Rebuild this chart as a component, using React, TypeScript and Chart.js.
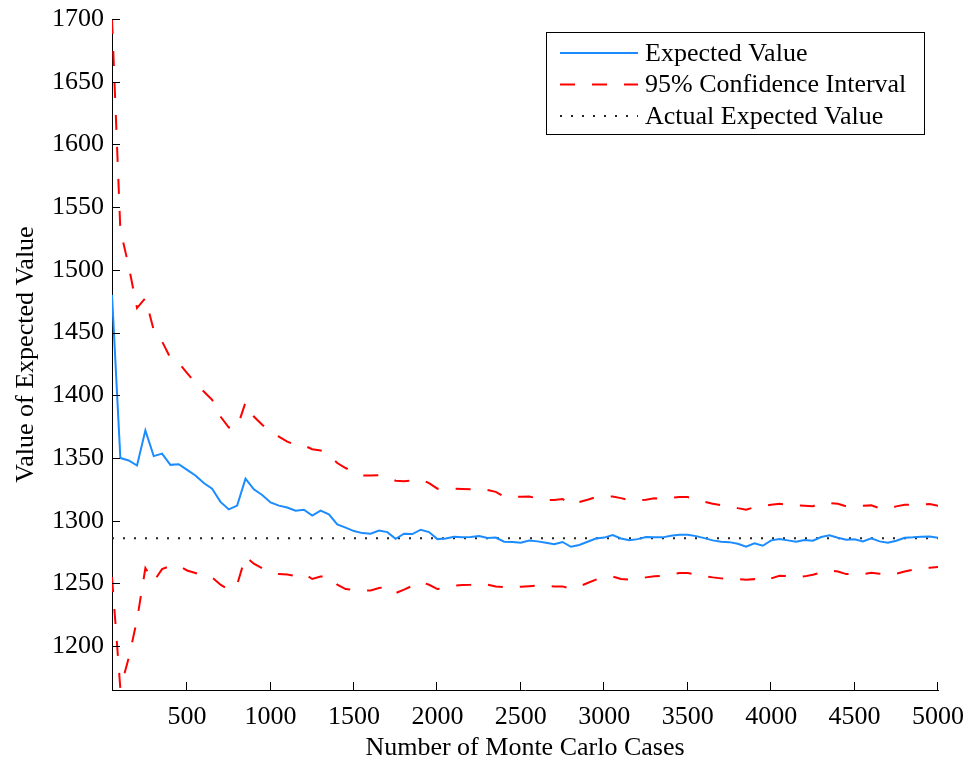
import React, { useEffect, useRef } from 'react';
import { Chart, registerables } from 'chart.js';

Chart.register(...registerables);

// Number of Monte Carlo cases (x values)
const CASES = [
  50, 100, 150, 200, 250, 300, 350, 400, 450, 500,
  550, 600, 650, 700, 750, 800, 850, 900, 950, 1000,
  1050, 1100, 1150, 1200, 1250, 1300, 1350, 1400, 1450, 1500,
  1550, 1600, 1650, 1700, 1750, 1800, 1850, 1900, 1950, 2000,
  2050, 2100, 2150, 2200, 2250, 2300, 2350, 2400, 2450, 2500,
  2550, 2600, 2650, 2700, 2750, 2800, 2850, 2900, 2950, 3000,
  3050, 3100, 3150, 3200, 3250, 3300, 3350, 3400, 3450, 3500,
  3550, 3600, 3650, 3700, 3750, 3800, 3850, 3900, 3950, 4000,
  4050, 4100, 4150, 4200, 4250, 4300, 4350, 4400, 4450, 4500,
  4550, 4600, 4650, 4700, 4750, 4800, 4850, 4900, 4950, 5000,
];

const EXPECTED = [
  1480, 1350, 1348, 1344, 1372, 1351.5, 1353.5, 1344.5, 1345, 1340.5,
  1336, 1330, 1325.5, 1315, 1309, 1312, 1333.5, 1325, 1320.5, 1314.5,
  1312, 1310.5, 1308, 1308.7, 1304, 1308, 1305, 1297, 1294.5, 1291.7,
  1290.1, 1289.6, 1292.2, 1290.9, 1285.6, 1289.6, 1289.3, 1292.8, 1290.9, 1285.3,
  1285.8, 1287.2, 1286.7, 1287, 1287.8, 1286.2, 1286.5, 1283.2, 1283, 1282.4,
  1284.2, 1283.5, 1282.4, 1281.3, 1283, 1279.2, 1280.6, 1283.2, 1285.8, 1286.5,
  1288.5, 1285.8, 1284.5, 1285.3, 1286.9, 1286.7, 1286.7, 1288.0, 1288.8, 1288.8,
  1287.7, 1286.1, 1284.3, 1283.2, 1282.9, 1281.6, 1279.2, 1281.9, 1280.0, 1284.3,
  1285.3, 1284.3, 1283.2, 1284.5, 1284.0, 1287.0, 1288.3, 1286.4, 1284.8, 1285.1,
  1283.5, 1285.9, 1283.5, 1282.4, 1284.0, 1286.4, 1286.7, 1287.2, 1287.4, 1286.4,
];

const UPPER_CI = [
  1700, 1532, 1503, 1469.5, 1477.5, 1452, 1443, 1429.7, 1425.7, 1417.7,
  1409.7, 1403, 1396.4, 1383, 1374.3, 1374.3, 1394.3, 1383, 1376.5, 1371,
  1367, 1363, 1360.5, 1360, 1357, 1356, 1352.6, 1346, 1342, 1338.5,
  1336, 1336, 1336.3, 1334.5, 1331.8, 1331.4, 1332, 1333, 1330, 1325.5,
  1325.5, 1325.5, 1325.2, 1325, 1325.5, 1324.5, 1323, 1319.3, 1319.3, 1319,
  1319.3, 1317.7, 1316.7, 1316.4, 1317.3, 1312.7, 1314.8, 1316.7, 1318.8, 1319.3,
  1319.3, 1318, 1316.4, 1316.2, 1316.7, 1317.8, 1317.5, 1318.3, 1318.8, 1318.8,
  1317.2, 1315.1, 1313.5, 1312.4, 1311.6, 1310, 1308.7, 1310.8, 1311.4, 1312.7,
  1313.5, 1312.7, 1312.2, 1311.9, 1311.6, 1314, 1314, 1313.5, 1311.4, 1311.6,
  1311.9, 1312.2, 1310, 1309.5, 1311.4, 1312.7, 1312.7, 1313, 1313.2, 1311.9,
];

const LOWER_CI = [
  1255, 1166, 1190.5, 1221, 1262.2, 1251.6, 1261.4, 1264, 1264, 1260.3,
  1258.3, 1256, 1254.8, 1249, 1245, 1249, 1271.5, 1265.7, 1262, 1259,
  1257.4, 1257, 1256, 1257.7, 1253.5, 1255.5, 1255.5, 1249, 1245.5, 1245,
  1244.1, 1244.4, 1246.3, 1247.3, 1242.3, 1245, 1248.1, 1251.3, 1248.9, 1245.5,
  1246.5, 1248.1, 1248.7, 1249, 1250, 1249, 1247.6, 1247, 1247, 1247.3,
  1247.8, 1248.4, 1247.8, 1247.6, 1247.6, 1245.7, 1247.6, 1250.3, 1253, 1254.3,
  1255.5, 1253.5, 1253, 1254, 1254.8, 1255.6, 1256.1, 1257.2, 1258.2, 1258.2,
  1257.2, 1255.8, 1254.8, 1254, 1253.7, 1253.4, 1252.9, 1253.4, 1251.6, 1254,
  1256.1, 1255.8, 1255, 1255.6, 1256.9, 1258.7, 1260.3, 1259.5, 1257.4, 1257.4,
  1257.4, 1258.5, 1257.7, 1256.6, 1257.7, 1259.5, 1260.9, 1261.9, 1262.5, 1263,
];

const ACTUAL_EXPECTED = 1286;

const X_TICKS = [500, 1000, 1500, 2000, 2500, 3000, 3500, 4000, 4500, 5000];
const Y_TICKS = [1200, 1250, 1300, 1350, 1400, 1450, 1500, 1550, 1600, 1650, 1700];

const X_MIN = 50;
const X_MAX = 5000;
const Y_MIN = 1165;
const Y_MAX = 1700;

const LEGEND_ITEMS = [0, 1, 3];

const FONT_FAMILY = "'Liberation Serif', 'Times New Roman', Times, serif";

const decorPlugin = {
  id: 'matlabDecor',
  afterDatasetsDraw(chart: any) {
    const { ctx, chartArea } = chart;
    const xs = chart.scales.x;
    const ys = chart.scales.y;
    ctx.save();
    // inward tick marks
    ctx.strokeStyle = '#000';
    ctx.lineWidth = 1;
    ctx.setLineDash([]);
    ctx.beginPath();
    for (const v of Y_TICKS) {
      const py = Math.round(ys.getPixelForValue(v)) + 0.5;
      ctx.moveTo(chartArea.left, py);
      ctx.lineTo(chartArea.left + 8, py);
    }
    for (const v of X_TICKS) {
      const px = Math.round(xs.getPixelForValue(v)) - 0.5;
      ctx.moveTo(px, chartArea.bottom);
      ctx.lineTo(px, chartArea.bottom - 8);
    }
    ctx.stroke();

    // legend box
    const bx = 546.5, by = 32.5, bw = 378, bh = 102;
    ctx.fillStyle = '#fff';
    ctx.fillRect(bx, by, bw, bh);
    ctx.strokeStyle = '#000';
    ctx.lineWidth = 1;
    ctx.strokeRect(bx, by, bw, bh);

    const rows = [53, 84.5, 116];
    ctx.font = `26px ${FONT_FAMILY}`;
    ctx.textBaseline = 'middle';
    ctx.textAlign = 'left';
    LEGEND_ITEMS.forEach((di, i) => {
      const ds = chart.data.datasets[di];
      const ry = rows[i];
      ctx.save();
      ctx.strokeStyle = ds.borderColor;
      ctx.lineWidth = ds.borderWidth;
      ctx.setLineDash(ds.borderDash || []);
      ctx.lineCap = 'butt';
      ctx.beginPath();
      ctx.moveTo(560, ry);
      ctx.lineTo(638, ry);
      ctx.stroke();
      ctx.restore();
      ctx.fillStyle = '#000';
      ctx.fillText(ds.label, 645, ry + 1);
    });
    ctx.restore();
  },
};

export default function App() {
  const canvasRef = useRef<HTMLCanvasElement | null>(null);

  useEffect(() => {
    const canvas = canvasRef.current;
    if (!canvas) return;
    const toPts = (vals: number[]) => CASES.map((c, i) => ({ x: c, y: vals[i] }));
    const chart = new Chart(canvas, {
      type: 'line',
      data: {
        datasets: [
          {
            label: 'Expected Value',
            data: toPts(EXPECTED),
            borderColor: '#1a8cff',
            borderWidth: 2,
            pointRadius: 0,
            tension: 0,
            fill: false,
          },
          {
            label: '95% Confidence Interval',
            data: toPts(UPPER_CI),
            borderColor: '#ff0000',
            borderWidth: 2,
            borderDash: [15, 17],
            pointRadius: 0,
            tension: 0,
            fill: false,
          },
          {
            label: '95% Confidence Interval (lower)',
            data: toPts(LOWER_CI),
            borderColor: '#ff0000',
            borderWidth: 2,
            borderDash: [15, 17],
            pointRadius: 0,
            tension: 0,
            fill: false,
          },
          {
            label: 'Actual Expected Value',
            data: [
              { x: X_MIN, y: ACTUAL_EXPECTED },
              { x: X_MAX, y: ACTUAL_EXPECTED },
            ],
            borderColor: '#222222',
            borderWidth: 2,
            borderDash: [2, 9],
            pointRadius: 0,
            tension: 0,
            fill: false,
          },
        ],
      },
      options: {
        responsive: false,
        animation: false,
        devicePixelRatio: 1,
        layout: { padding: { top: 19, right: 33, bottom: 0, left: 0 } },
        plugins: {
          legend: { display: false },
          tooltip: { enabled: false },
          title: { display: false },
        },
        scales: {
          x: {
            type: 'linear',
            min: X_MIN,
            max: X_MAX,
            grid: { display: false, drawTicks: false },
            border: { display: true, color: '#000', width: 1 },
            ticks: {
              autoSkip: false,
              maxRotation: 0,
              padding: 12,
              color: '#000',
              font: { family: FONT_FAMILY, size: 26 },
              callback: (v: any) => String(v),
            },
            afterBuildTicks: (scale: any) => {
              scale.ticks = X_TICKS.map((v) => ({ value: v }));
            },
            afterFit: (scale: any) => {
              scale.height = 71;
              scale.paddingLeft = 0;
              scale.paddingRight = 0;
            },
            title: {
              display: true,
              text: 'Number of Monte Carlo Cases',
              color: '#000',
              font: { family: FONT_FAMILY, size: 26, lineHeight: 1 },
              padding: { top: 0, bottom: 0 },
            },
          },
          y: {
            type: 'linear',
            min: Y_MIN,
            max: Y_MAX,
            grid: { display: false, drawTicks: false },
            border: { display: true, color: '#000', width: 1 },
            ticks: {
              autoSkip: false,
              padding: 8,
              color: '#000',
              font: { family: FONT_FAMILY, size: 26 },
              callback: (v: any) => String(v),
            },
            afterBuildTicks: (scale: any) => {
              scale.ticks = Y_TICKS.map((v) => ({ value: v }));
            },
            afterFit: (scale: any) => {
              scale.width = 112;
              scale.paddingTop = 0;
              scale.paddingBottom = 0;
            },
            title: {
              display: true,
              text: 'Value of Expected Value',
              color: '#000',
              font: { family: FONT_FAMILY, size: 26, lineHeight: 1 },
              padding: { top: 13, bottom: 0 },
            },
          },
        },
      },
      plugins: [decorPlugin],
    } as any);
    return () => chart.destroy();
  }, []);

  return (
    <div style={{ position: 'fixed', left: 0, top: 0, width: 971, height: 761, background: '#fff' }}>
      <canvas ref={canvasRef} width={971} height={761} style={{ display: 'block', width: 971, height: 761 }} />
    </div>
  );
}
